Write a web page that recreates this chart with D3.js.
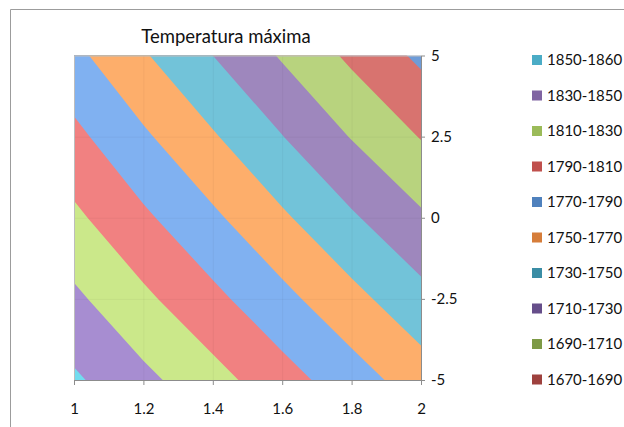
<!DOCTYPE html>
<html>
<head>
<meta charset="utf-8">
<script src="https://cdn.jsdelivr.net/npm/d3@7"></script>
<style>
  body { margin: 0; background: #fff; }
  svg { display: block; font-family: Lato, "Open Sans", sans-serif; }
</style>
</head>
<body>
<svg id="chart" width="624" height="427"></svg>
<script>
// Grid of maximum temperature: one row per y value, one column per x value.
const xValues = [1, 1.2, 1.4, 1.6, 1.8, 2];
const yValues = [5, 2.5, 0, -2.5, -5];
const tmax = [
  [1775, 1752, 1730, 1708, 1686, 1666],
  [1795, 1773, 1752, 1730.5, 1709, 1689],
  [1814, 1793.5, 1773.5, 1753, 1732.5, 1713],
  [1834, 1814, 1795, 1775.5, 1756, 1736.5],
  [1853, 1835, 1817, 1798, 1779, 1760]
];

// Band edges and axis ticks.
const bandBreaks = [1670, 1690, 1710, 1730, 1750, 1770, 1790, 1810, 1830, 1850];
const xTicks = [1, 1.2, 1.4, 1.6, 1.8, 2];
const yTicks = [5, 2.5, 0, -2.5, -5];
const legendLabels = ["1850-1860", "1830-1850", "1810-1830", "1790-1810", "1770-1790",
                      "1750-1770", "1730-1750", "1710-1730", "1690-1710", "1670-1690"];

// Surface fill colours: [below first break, then one per break].
const surfaceColors = ["#6e9cd8", "#d8736f", "#b8d37e", "#9e87bd", "#72c3d9", "#fdae6b",
                       "#80b1f1", "#f18181", "#cbe88a", "#a78dd1", "#72dcef"];
// Legend swatch colours, in legend order.
const legendColors = ["#4bacc6", "#8064a2", "#9bbb59", "#c0504d", "#4f81bd",
                      "#d67d3a", "#3a8da5", "#664e8a", "#7d9a46", "#9e413e"];

const svg = d3.select("#chart");
const plot = { left: 74, right: 421, top: 55.5, bottom: 380 };

const x = d3.scaleLinear().domain([1, 2]).range([plot.left, plot.right]);
const y = d3.scaleLinear().domain([-5, 5]).range([plot.bottom, plot.top]);

// Chart frame (top and left edges)
svg.append("path")
  .attr("d", "M10.5,427V9.5H624")
  .attr("fill", "none")
  .attr("stroke", "#9c9c9c");

// Title
svg.append("text")
  .attr("x", 226).attr("y", 43)
  .attr("text-anchor", "middle")
  .attr("font-size", 18.5)
  .attr("fill", "#111")
  .text("Temperatura máxima");

// Contour bands
svg.append("clipPath").attr("id", "plotClip")
  .append("rect")
  .attr("x", plot.left).attr("y", plot.top)
  .attr("width", plot.right - plot.left).attr("height", plot.bottom - plot.top);

const nx = xValues.length, ny = yValues.length;
// grid coordinate i + 0.5 sits on the i-th value
const gx = d3.scaleLinear().domain([0.5, nx - 0.5]).range([x(xValues[0]), x(xValues[nx - 1])]);
const gy = d3.scaleLinear().domain([0.5, ny - 0.5]).range([y(yValues[0]), y(yValues[ny - 1])]);
const path = d3.geoPath(d3.geoTransform({
  point(px, py) { this.stream.point(gx(px), gy(py)); }
}));

const bands = d3.contours()
  .size([nx, ny])
  .thresholds(bandBreaks)(tmax.flat());

const g = svg.append("g").attr("clip-path", "url(#plotClip)");
g.append("rect")
  .attr("x", plot.left).attr("y", plot.top)
  .attr("width", plot.right - plot.left).attr("height", plot.bottom - plot.top)
  .attr("fill", surfaceColors[0]);
g.selectAll("path.band")
  .data(bands)
  .join("path")
  .attr("class", "band")
  .attr("d", path)
  .attr("fill", (d, i) => surfaceColors[i + 1]);

// faint grid lines over the surface
g.selectAll("line.vg").data(xTicks.slice(1, -1)).join("line")
  .attr("x1", d => x(d) + 0.5).attr("x2", d => x(d) + 0.5)
  .attr("y1", plot.top).attr("y2", plot.bottom)
  .attr("stroke", "rgba(0,0,0,0.04)");
g.selectAll("line.hg").data(yTicks.slice(1, -1)).join("line")
  .attr("y1", d => y(d) + 0.5).attr("y2", d => y(d) + 0.5)
  .attr("x1", plot.left).attr("x2", plot.right)
  .attr("stroke", "rgba(0,0,0,0.04)");

// plot outline on top and left
svg.append("path")
  .attr("d", `M${plot.left + 0.5},${plot.bottom}V${plot.top + 0.5}H${plot.right}`)
  .attr("fill", "none")
  .attr("stroke", "#bdbdbd");

// Axes
const fmt = d => String(d);
const xAxis = svg.append("g")
  .attr("transform", `translate(0,${plot.bottom})`)
  .call(d3.axisBottom(x).tickValues(xTicks).tickFormat(fmt)
    .tickSize(5).tickSizeOuter(0).tickPadding(18));
const yAxis = svg.append("g")
  .attr("transform", `translate(${plot.right},0)`)
  .call(d3.axisRight(y).tickValues(yTicks).tickFormat(fmt)
    .tickSize(4).tickSizeOuter(0).tickPadding(6));

[xAxis, yAxis].forEach(a => {
  a.attr("font-family", null).attr("font-size", 15);
  a.selectAll("path.domain").attr("stroke", "#8c8c8c");
  a.selectAll(".tick line").attr("stroke", "#8c8c8c");
  a.selectAll(".tick text").attr("fill", "#111");
});

// Legend
const legend = svg.append("g");
const item = legend.selectAll("g").data(legendLabels).join("g")
  .attr("transform", (d, i) => `translate(532,${60 + i * 35.5})`);
item.append("rect")
  .attr("x", 0).attr("y", -5).attr("width", 10).attr("height", 10)
  .attr("fill", (d, i) => legendColors[i]);
item.append("text")
  .attr("x", 15).attr("dy", "0.35em")
  .attr("font-size", 15)
  .attr("fill", "#111")
  .text(d => d);
</script>
</body>
</html>
